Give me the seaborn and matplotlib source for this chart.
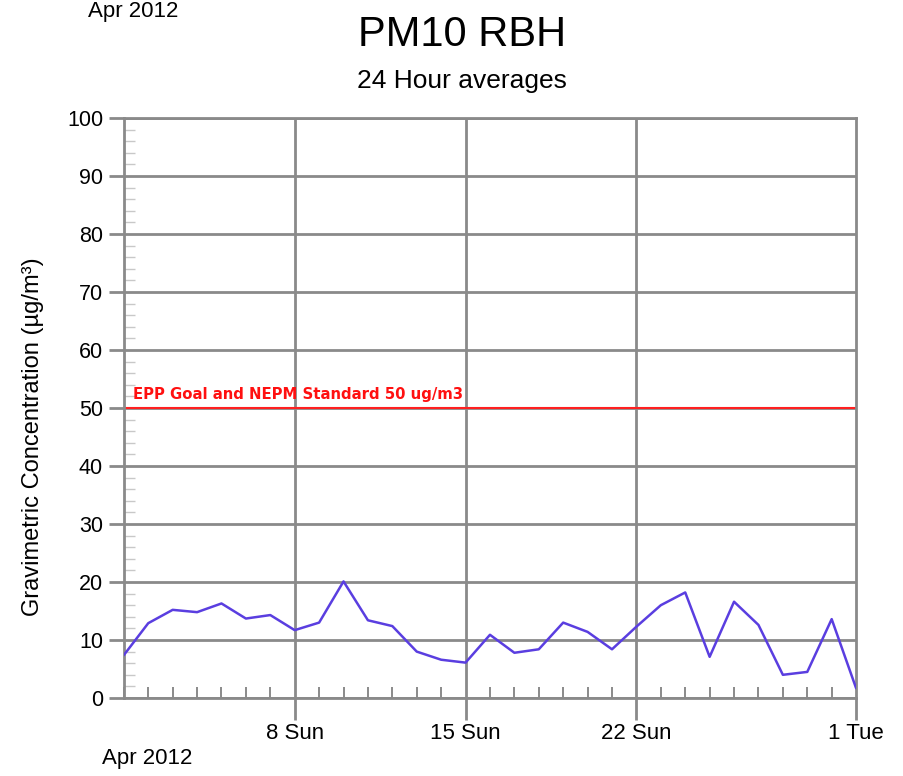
import pandas as pd
import seaborn as sns
import matplotlib.pyplot as plt
import matplotlib.dates as mdates
from matplotlib.ticker import MultipleLocator

# daily 24h PM10 averages, Apr 1 - May 1 2012
dates = pd.date_range("2012-04-01", "2012-05-01", freq="D")
pm10 = [7.4, 12.9, 15.2, 14.8, 16.3, 13.7, 14.3, 11.7, 13.0, 20.1,
        13.4, 12.4, 8.0, 6.6, 6.1, 10.9, 7.8, 8.4, 13.0, 11.4,
        8.4, 12.3, 16.0, 18.2, 7.1, 16.6, 12.6, 4.0, 4.5, 13.6, 1.7]
tick_dates = ["2012-04-08", "2012-04-15", "2012-04-22", "2012-05-01"]
tick_labels = ["8 Sun", "15 Sun", "22 Sun", "1 Tue"]
standard = 50
standard_label = "EPP Goal and NEPM Standard 50 ug/m3"

df = pd.DataFrame({"date": dates, "pm10": pm10})

sns.set_style("white")
plt.rcParams['font.family'] = ['Liberation Sans', 'DejaVu Sans']
plt.rcParams['text.color'] = 'black'
plt.rcParams['axes.labelcolor'] = 'black'
plt.rcParams['xtick.labelcolor'] = 'black'
plt.rcParams['ytick.labelcolor'] = 'black'

fig = plt.figure(figsize=(9.04, 7.76), dpi=100)
ax = fig.add_axes([0.137, 0.1005, 0.81, 0.7475])

grid_c = "#8a8a8a"
tick_dt = pd.to_datetime(tick_dates)
for d in tick_dt[:-1]:
    ax.axvline(d, color=grid_c, lw=2, zorder=1)
ax.yaxis.grid(True, color=grid_c, lw=2, zorder=1)
ax.set_axisbelow(True)

ax.axhline(standard, color="#ff2020", lw=1.5, zorder=2)
ax.text(pd.Timestamp("2012-04-01 09:00"), standard + 1.0, standard_label,
        color="#ff1010", fontsize=10.7, fontweight="bold", va="bottom", ha="left",
        family="DejaVu Sans")

sns.lineplot(data=df, x="date", y="pm10", ax=ax, color="#5a3ee0", lw=1.8, zorder=3)

ax.set_xlim(dates[0], dates[-1])
ax.set_ylim(0, 100)
ax.yaxis.set_major_locator(MultipleLocator(10))
ax.yaxis.set_minor_locator(MultipleLocator(2))
ax.set_xticks(tick_dt)
ax.set_xticklabels(tick_labels)
ax.xaxis.set_minor_locator(mdates.DayLocator())

ax.tick_params(axis="y", which="major", direction="out", length=11, width=2,
               color=grid_c, labelsize=15.5, pad=4, left=True)
ax.tick_params(axis="y", which="minor", direction="in", length=8, width=1,
               color="#c8c8c8", left=True)
ax.tick_params(axis="x", which="major", direction="out", length=16, width=2,
               color=grid_c, labelsize=16, pad=2, bottom=True)
ax.tick_params(axis="x", which="minor", direction="in", length=8, width=1.2,
               color="#777777", bottom=True)

for s in ax.spines.values():
    s.set_color(grid_c)
    s.set_linewidth(2)

ax.set_xlabel("")
ax.set_ylabel("Gravimetric Concentration (\u00b5g/m\u00b3)", fontsize=17)
ax.yaxis.set_label_coords(-0.109, 0.45)

fig.text(0.511, 0.955, "PM10 RBH", ha="center", va="center", fontsize=30)
fig.text(0.511, 0.895, "24 Hour averages", ha="center", va="center", fontsize=19)
fig.text(0.097, 0.985, "Apr 2012", ha="left", va="center", fontsize=16)
fig.text(0.113, 0.023, "Apr 2012", ha="left", va="center", fontsize=16)

plt.savefig("out.png", dpi=100)
